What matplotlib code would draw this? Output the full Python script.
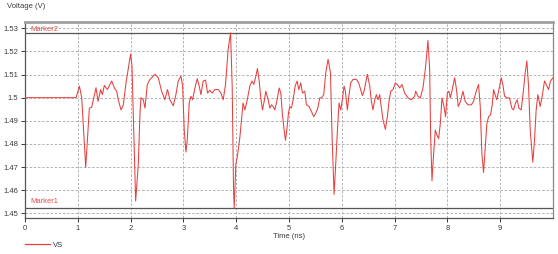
import matplotlib
matplotlib.use('Agg')
import matplotlib.pyplot as plt
from matplotlib.lines import Line2D

plt.rcParams['font.family'] = ['Liberation Sans', 'DejaVu Sans']

# ---- data ----
time_ns = [0.0, 0.967, 1.03, 1.074, 1.15, 1.219, 1.263, 1.345, 1.383, 1.433, 1.465,
           1.503, 1.559, 1.642, 1.692, 1.736, 1.767, 1.818, 1.862, 1.913, 1.975,
           2.0, 2.026, 2.096, 2.146, 2.178, 2.196, 2.24, 2.272, 2.316, 2.367,
           2.461, 2.524, 2.587, 2.65, 2.70, 2.745, 2.808, 2.858, 2.902, 2.953,
           2.985, 3.016, 3.048, 3.073, 3.11, 3.142, 3.174, 3.218, 3.262, 3.30,
           3.331, 3.375, 3.42, 3.457, 3.502, 3.546, 3.596, 3.659, 3.71, 3.754,
           3.798, 3.848, 3.893, 3.924, 3.949, 3.962, 3.994, 4.025, 4.07, 4.10,
           4.13, 4.164, 4.21, 4.258, 4.30, 4.334, 4.372, 4.403, 4.435, 4.466,
           4.498, 4.53, 4.561, 4.605, 4.637, 4.668, 4.70, 4.731, 4.775, 4.813,
           4.845, 4.876, 4.908, 4.933, 4.958, 4.99, 5.015, 5.047, 5.078, 5.116,
           5.154, 5.185, 5.223, 5.255, 5.299, 5.33, 5.381, 5.425, 5.469, 5.507,
           5.545, 5.583, 5.614, 5.658, 5.696, 5.74, 5.785, 5.816, 5.854, 5.885,
           5.917, 5.948, 5.98, 6.005, 6.043, 6.068, 6.106, 6.137, 6.169, 6.213,
           6.276, 6.32, 6.358, 6.39, 6.421, 6.453, 6.484, 6.529, 6.56, 6.591,
           6.623, 6.655, 6.686, 6.718, 6.75, 6.781, 6.825, 6.863, 6.894, 6.926,
           6.97, 7.014, 7.052, 7.096, 7.14, 7.19, 7.254, 7.317, 7.38, 7.399,
           7.443, 7.487, 7.537, 7.582, 7.632, 7.664, 7.683, 7.708, 7.739, 7.771,
           7.802, 7.834, 7.866, 7.897, 7.935, 7.966, 7.998, 8.029, 8.055, 8.092,
           8.137, 8.168, 8.206, 8.25, 8.294, 8.338, 8.389, 8.452, 8.496, 8.546,
           8.59, 8.622, 8.653, 8.685, 8.717, 8.748, 8.78, 8.818, 8.849, 8.875,
           8.912, 8.937, 8.975, 9.02, 9.05, 9.083, 9.133, 9.177, 9.22, 9.253,
           9.29, 9.322, 9.353, 9.398, 9.442, 9.473, 9.505, 9.537, 9.568, 9.618,
           9.65, 9.681, 9.713, 9.757, 9.795, 9.839, 9.871, 9.915, 9.953, 10.0]

vs_volts = [1.5000, 1.5000, 1.5050, 1.5000, 1.4699, 1.4955, 1.4959, 1.5043, 1.4984, 1.5035, 1.5013,
            1.5053, 1.5035, 1.5072, 1.5042, 1.5028, 1.4991, 1.4947, 1.4969, 1.5064, 1.5152,
            1.5188, 1.5137, 1.4553, 1.4714, 1.4933, 1.5000, 1.4991, 1.4955, 1.5057, 1.5079,
            1.5101, 1.5086, 1.5028, 1.4991, 1.5035, 1.4991, 1.4965, 1.5013, 1.5072, 1.5093,
            1.5050, 1.4860, 1.4765, 1.4816, 1.4977, 1.5006, 1.4991, 1.5042, 1.5082, 1.5050,
            1.5013, 1.5072, 1.5076, 1.5020, 1.5032, 1.5020, 1.5035, 1.5035, 1.5020, 1.4991,
            1.5057, 1.5210, 1.5280, 1.5050, 1.4612, 1.4524, 1.4714, 1.4750, 1.4830, 1.4904,
            1.4977, 1.4947, 1.4991, 1.5050, 1.5072, 1.5057, 1.5093, 1.5126, 1.5072, 1.4999,
            1.4947, 1.4984, 1.5028, 1.4991, 1.4955, 1.4969, 1.4962, 1.4947, 1.4991, 1.5042,
            1.5020, 1.4926, 1.4860, 1.4816, 1.4860, 1.4933, 1.4962, 1.4955, 1.4991, 1.5050,
            1.5072, 1.5035, 1.5064, 1.5020, 1.5028, 1.4969, 1.4962, 1.4940, 1.4918, 1.4933,
            1.4955, 1.4999, 1.4999, 1.5013, 1.5108, 1.5166, 1.5108, 1.4831, 1.4582, 1.4714,
            1.4860, 1.4977, 1.4947, 1.4984, 1.5050, 1.5028, 1.4947, 1.5013, 1.5064, 1.5079,
            1.5079, 1.5064, 1.5035, 1.5009, 1.5028, 1.5064, 1.5101, 1.5050, 1.4984, 1.4947,
            1.4991, 1.5013, 1.4991, 1.5013, 1.4955, 1.4904, 1.4863, 1.4918, 1.4984, 1.5028,
            1.5035, 1.5064, 1.5057, 1.5042, 1.5057, 1.5020, 1.4999, 1.4991, 1.5006, 1.5028,
            1.5006, 1.4999, 1.5042, 1.5123, 1.5247, 1.5123, 1.4831, 1.4641, 1.4758, 1.4860,
            1.4838, 1.4823, 1.4889, 1.4999, 1.4962, 1.4918, 1.5020, 1.5028, 1.4999, 1.5035,
            1.5086, 1.5042, 1.4962, 1.4984, 1.5028, 1.4984, 1.4969, 1.4969, 1.4984, 1.5028,
            1.5057, 1.4962, 1.4758, 1.4677, 1.4787, 1.4889, 1.4918, 1.4926, 1.4969, 1.5035,
            1.5006, 1.4991, 1.5035, 1.5086, 1.5057, 1.5006, 1.4999, 1.4999, 1.4955, 1.4947,
            1.4977, 1.4991, 1.4955, 1.4947, 1.5035, 1.5108, 1.5159, 1.5050, 1.4860, 1.4721,
            1.4816, 1.4947, 1.5013, 1.4962, 1.5006, 1.5072, 1.5057, 1.5035, 1.5072, 1.5086]

marker1_v = 1.4525
marker2_v = 1.5281
marker_names = ['Marker1', 'Marker2']
series_name = 'VS'

x_ticks = [0, 1, 2, 3, 4, 5, 6, 7, 8, 9]
x_tick_labels = ['0', '1', '2', '3', '4', '5', '6', '7', '8', '9']
y_ticks = [1.45, 1.46, 1.47, 1.48, 1.49, 1.50, 1.51, 1.52, 1.53]
y_tick_labels = ['1.45', '1.46', '1.47', '1.48', '1.49', '1.5', '1.51', '1.52', '1.53']

# ---- figure ----
W, H = 558, 254
fig = plt.figure(figsize=(W / 100, H / 100), dpi=100)
ax = fig.add_axes([25 / W, (H - 218) / H, 528 / W, 196 / H])

line_color = '#e5403f'
text_color = '#3a3a3a'

ax.plot(time_ns, vs_volts, color=line_color, lw=0.75, zorder=3)
ax.set_xlim(0, 10)
ax.set_ylim(1.4480, 1.5327)

ax.set_xticks(x_ticks)
ax.set_xticklabels(x_tick_labels)
ax.set_yticks(y_ticks)
ax.set_yticklabels(y_tick_labels)
ax.tick_params(axis='both', labelsize=5.5, colors=text_color, length=3, width=0.7, pad=2)

ax.grid(True, ls=(0, (3, 2)), color='#a8a8a8', lw=0.6, zorder=1)

ax.axhline(marker1_v, color='#555555', lw=0.9, zorder=2)
ax.axhline(marker2_v, color='#555555', lw=0.9, zorder=2)
ax.text(0.1, marker1_v + 0.0012, marker_names[0], color='#e05050', fontsize=5.5,
        va='bottom', ha='left', zorder=4)
ax.text(0.1, marker2_v - 0.0003, marker_names[1], color='#e05050', fontsize=5.5,
        va='bottom', ha='left', zorder=4)

for side in ['left', 'bottom']:
    ax.spines[side].set_color('#555555')
    ax.spines[side].set_linewidth(0.9)
ax.spines['right'].set_color('#888888')
ax.spines['right'].set_linewidth(0.9)
ax.spines['top'].set_color('#a0a0a0')
ax.spines['top'].set_linewidth(2.0)

fig.text(7 / W, 1 - 7 / H, 'Voltage (V)', fontsize=5.5, color=text_color,
         ha='left', va='center')
ax.set_xlabel('Time (ns)', fontsize=5.5, color=text_color, labelpad=1)

handle = Line2D([0], [0], color=line_color, lw=0.9)
fig.legend([handle], [series_name], loc='center left',
           bbox_to_anchor=(22 / W, 1 - 245 / H), frameon=False,
           fontsize=5.5, handlelength=3.2, handletextpad=0.4, borderaxespad=0,
           labelcolor=text_color)

fig.savefig('out.png', dpi=100)
